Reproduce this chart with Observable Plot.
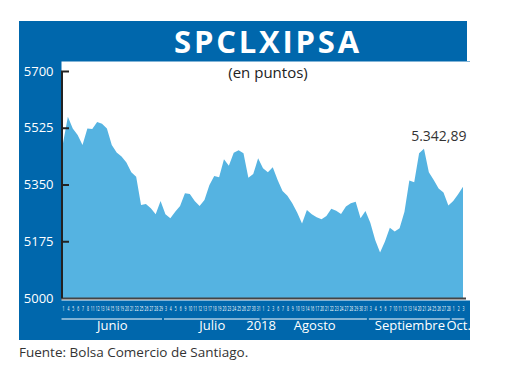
<!DOCTYPE html>
<html>
<head>
<meta charset="utf-8">
<script src="https://cdn.jsdelivr.net/npm/d3@7"></script>
<script src="https://cdn.jsdelivr.net/npm/@observablehq/plot@0.6"></script>
<style>
  html, body { margin: 0; padding: 0; background: #fff; }
  #wrap { position: relative; width: 520px; height: 390px; font-family: "Open Sans", sans-serif; }
  #title { position: absolute; left: 19px; top: 21px; width: 398px; height: 40px; padding-left: 50px;
           background: #0067ac; color: #fff; font-weight: 700; font-size: 31px; line-height: 41px;
           text-align: center; letter-spacing: 2.8px; }
  #sub { position: absolute; left: 198px; top: 62px; width: 140px; text-align: center;
         font-size: 15px; color: #222; line-height: 20px; }
  #chart { position: absolute; left: 19px; top: 61px; }
  #src { position: absolute; left: 19px; top: 343px; font-size: 13.5px; color: #333; }
</style>
</head>
<body>
<div id="wrap">
  <div id="chart"></div>
  <div id="title">SPCLXIPSA</div>
  <div id="sub">(en puntos)</div>
  <div id="src">Fuente: Bolsa Comercio de Santiago.</div>
</div>
<script>
const junio = [1,4,5,6,7,8,11,12,13,14,15,18,19,20,21,22,25,26,27,28,29];
const julio = [3,4,5,6,9,10,11,12,13,17,18,19,20,23,24,25,26,27,30,31];
const agosto = [1,2,3,6,7,8,9,10,13,14,16,17,20,21,22,23,24,27,28,29,30,31];
const septiembre = [3,4,5,6,7,10,11,12,13,14,20,21,24,25,26,27,28];
const octubre = [1,2,3];
const monthNames = ["Junio","Julio","Agosto","Septiembre","Oct."];
const values = [5477,5559,5523,5503,5472,5523,5521,5543,5537,5523,
  5472,5449,5436,5418,5388,5374,5287,5290,5277,5258,
  5299,5258,5246,5266,5284,5323,5321,5299,5284,5302,
  5348,5376,5372,5428,5408,5448,5456,5446,5371,5382,
  5431,5400,5388,5403,5364,5330,5315,5292,5264,5230,
  5271,5258,5249,5243,5253,5275,5269,5259,5282,5292,
  5297,5246,5268,5232,5179,5140,5174,5217,5205,5215,
  5266,5362,5357,5446,5460,5388,5364,5338,5325,5285,
  5299,5320,5342.89];
const yTicks = [5000,5175,5350,5525,5700];
const yearLabel = "2018";
const lastLabel = "5.342,89";

const monthDays = [junio, julio, agosto, septiembre, octubre];
const dayLabels = monthDays.flat();
const data = values.map((v, i) => ({i, v, day: dayLabels[i]}));
let k = 0;
const months = monthDays.map((d, m) => {
  const start = k; k += d.length;
  return {name: monthNames[m], start, end: k - 1, center: (start + k - 1) / 2};
});
const yearPos = [{x: months[1].end + 0.5, text: yearLabel}];
const last = data[data.length - 1];
const BLUE = "#0067ac";

const chart = Plot.plot({
  width: 451, height: 279,
  marginLeft: 42, marginRight: 0, marginTop: 0, marginBottom: 40,
  style: {background: BLUE, fontFamily: "Open Sans, sans-serif", overflow: "visible"},
  x: {type: "linear", domain: [0, values.length - 1], insetLeft: 2, insetRight: 7, label: null},
  y: {type: "linear", domain: [yTicks[0], yTicks[yTicks.length - 1]], insetTop: 10, insetBottom: 2, label: null},
  marks: [
    Plot.frame({fill: "white", stroke: null}),
    Plot.areaY(data, {x: "i", y1: yTicks[0], y2: "v", fill: "#55b3e1"}),
    Plot.ruleY([yTicks[0]], {stroke: "#444", strokeWidth: 2, insetRight: 4}),
    Plot.ruleX([0], {y1: yTicks[0], y2: yTicks[yTicks.length - 1], dx: -1.5, stroke: "#222", strokeWidth: 2}),
    Plot.tickY(yTicks.slice(1), {y: d => d, stroke: "#222", strokeWidth: 2, insetRight: 401}),
    Plot.axisY(yTicks, {anchor: "left", tickSize: 0, tickPadding: 8, color: "white", fontSize: 13,
      label: null, tickFormat: d => String(d)}),
    Plot.axisX(data.map(d => d.i), {anchor: "bottom", tickSize: 0, tickPadding: 5, color: "white",
      fontSize: 7.5, label: null, tickFormat: i => String(dayLabels[i])}),
    Plot.ruleY(months, {x1: d => d.start - 0.3, x2: d => d.end + 0.3, y: () => yTicks[0], dy: 20.5,
      stroke: "white", strokeWidth: 1}),
    Plot.text(months, {x: "center", text: "name", frameAnchor: "bottom", dy: 29, fill: "white", fontSize: 13}),
    Plot.text(yearPos, {x: "x", text: "text", frameAnchor: "bottom", dy: 29, fill: "white", fontSize: 13}),
    Plot.text([last], {x: "i", y: "v", text: () => lastLabel, textAnchor: "end", dx: 3, dy: -51,
      fill: "#333", fontSize: 14})
  ]
});
d3.select(chart).selectAll('g[aria-label="x-axis tick label"] text').each(function () {
  const t = this.textContent;
  this.setAttribute("textLength", t.length > 1 ? 3.8 : 1.9);
  this.setAttribute("lengthAdjust", "spacingAndGlyphs");
});
document.getElementById("chart").appendChild(chart);
</script>
</body>
</html>
